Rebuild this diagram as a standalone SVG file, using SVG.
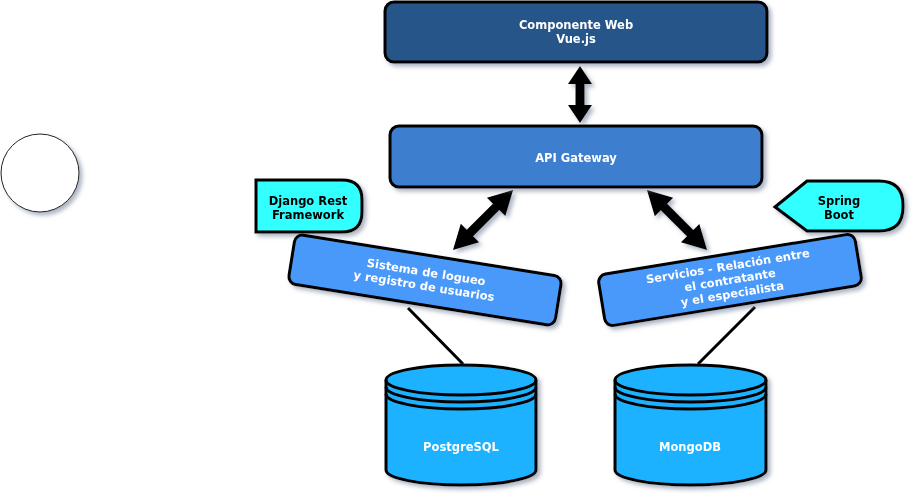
<svg xmlns="http://www.w3.org/2000/svg" width="915" height="498" viewBox="0 0 915 498">
<defs>
<filter id="sh" x="-20%" y="-20%" width="140%" height="150%">
<feDropShadow dx="3" dy="3" stdDeviation="2" flood-color="#6a7890" flood-opacity="0.55"/>
</filter>
<style>
.t{font-family:"DejaVu Sans","Liberation Sans",sans-serif;font-weight:bold;font-size:11.5px;text-anchor:middle}
.w{fill:#ffffff}
.k{fill:#000000}
.box{stroke:#000;stroke-width:3}
.arr{fill:#000}
.ln{stroke:#000;stroke-width:3;fill:none}
.db{fill:#1eb2ff;stroke:#000;stroke-width:3}
</style>
</defs>
<g id="start" filter="url(#sh)">
<circle cx="40" cy="173" r="39" fill="#fff" stroke="#222" stroke-width="1"/>
</g>
<g id="connectors">
<line class="ln" x1="408" y1="308" x2="463" y2="364"/>
<line class="ln" x1="755" y1="307" x2="698" y2="364"/>
<g filter="url(#sh)">
<polygon class="arr" transform="translate(580,66) rotate(90)" points="0,0 18,-12 18,-4.5 39,-4.5 39,-12 57,0 39,12 39,4.5 18,4.5 18,12"/>
<polygon class="arr" transform="translate(453,250) rotate(-45)" points="0,0 24,-13 24,-4.5 61,-4.5 61,-13 85,0 61,13 61,4.5 24,4.5 24,13"/>
<polygon class="arr" transform="translate(647,190) rotate(45)" points="0,0 24,-13 24,-4.5 61,-4.5 61,-13 85,0 61,13 61,4.5 24,4.5 24,13"/>
</g>
</g>
<g id="vue" filter="url(#sh)">
<rect class="box" x="385" y="2" width="382" height="60" rx="9" fill="#27548a"/>
<text class="t w" x="576" y="29">Componente Web</text>
<text class="t w" x="576" y="43">Vue.js</text>
</g>
<g id="gateway" filter="url(#sh)">
<rect class="box" x="390" y="126" width="372" height="61" rx="9" fill="#3d7ecf"/>
<text class="t w" x="576" y="162">API Gateway</text>
</g>
<g id="django" filter="url(#sh)">
<path class="box" fill="#33ffff" d="M256,180 H342 Q362,180 362,200 V212 Q362,232 342,232 H256 Z"/>
<text class="t k" x="308" y="205">Django Rest</text>
<text class="t k" x="308" y="219">Framework</text>
</g>
<g id="spring" filter="url(#sh)">
<path class="box" fill="#33ffff" d="M775,207 L807,181 H879 Q903,181 903,205 V207 Q903,231 879,231 H807 Z"/>
<text class="t k" x="839" y="205">Spring</text>
<text class="t k" x="839" y="219">Boot</text>
</g>
<g id="login" filter="url(#sh)">
<g transform="translate(425,280) rotate(9.1)">
<rect class="box" x="-135" y="-25" width="270" height="50" rx="8" fill="#4a99fb"/>
<text class="t w" x="0" y="-4">Sistema de logueo</text>
<text class="t w" x="0" y="10">y registro de usuarios</text>
</g>
</g>
<g id="servicios" filter="url(#sh)">
<g transform="translate(730,280) rotate(-9.3)">
<rect class="box" x="-130" y="-26" width="260" height="52" rx="8" fill="#4a99fb"/>
<text class="t w" x="0" y="-10">Servicios - Relación entre</text>
<text class="t w" x="0" y="4">el contratante</text>
<text class="t w" x="0" y="18">y el especialista</text>
</g>
</g>
<g id="postgres" filter="url(#sh)">
<path class="db" d="M386,380 A75,15 0 0 1 536,380 V470 A75,15 0 0 1 386,470 Z"/>
<path class="ln" d="M386,380 A75,15 0 0 0 536,380 M386,387 A75,15 0 0 0 536,387 M386,394 A75,15 0 0 0 536,394"/>
<text class="t w" x="461" y="451">PostgreSQL</text>
</g>
<g id="mongo" filter="url(#sh)">
<path class="db" d="M615,380 A75.5,15 0 0 1 766,380 V470 A75.5,15 0 0 1 615,470 Z"/>
<path class="ln" d="M615,380 A75.5,15 0 0 0 766,380 M615,387 A75.5,15 0 0 0 766,387 M615,394 A75.5,15 0 0 0 766,394"/>
<text class="t w" x="690" y="451">MongoDB</text>
</g>
</svg>
